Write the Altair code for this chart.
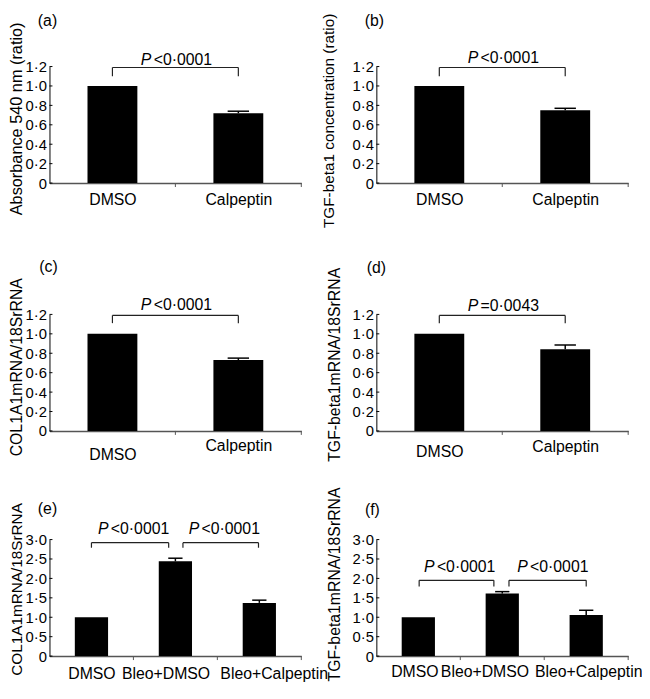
import json
import altair as alt
import pandas as pd

FONT = "Liberation Sans"

# ---------------- data ----------------
cats_2 = ["DMSO", "Calpeptin"]
cats_3 = ["DMSO", "Bleo+DMSO", "Bleo+Calpeptin"]

mean_a = [1.00, 0.72]
err_a = [0.00, 0.02]
mean_b = [1.00, 0.75]
err_b = [0.00, 0.02]
mean_c = [1.00, 0.73]
err_c = [0.00, 0.02]
mean_d = [1.00, 0.84]
err_d = [0.00, 0.045]
mean_e = [1.00, 2.44, 1.37]
err_e = [0.00, 0.08, 0.07]
mean_f = [1.00, 1.61, 1.06]
err_f = [0.00, 0.05, 0.12]

yticks_12 = [0, 0.2, 0.4, 0.6, 0.8, 1.0, 1.2]
yticks_30 = [0, 0.5, 1.0, 1.5, 2.0, 2.5, 3.0]

title_a = "Absorbance 540 nm (ratio)"
title_b = "TGF-beta1 concentration (ratio)"
title_c = "COL1A1mRNA/18SrRNA"
title_d = "TGF-beta1mRNA/18SrRNA"
title_e = "COL1A1mRNA/18SrRNA"
title_f = "TGF-beta1mRNA/18SrRNA"

# comparisons: left end, right end, bracket top, bracket foot, text x, text y, relation, P value
cols = ["l", "r", "top", "foot", "tx", "ty", "rel", "p"]
comp_a = [(0.5, 1.5, 1.19, 1.10, 1.0, 1.27, "<", "0·0001")]
comp_b = [(0.5, 1.5, 1.19, 1.10, 1.0, 1.29, "<", "0·0001")]
comp_c = [(0.5, 1.5, 1.19, 1.11, 1.0, 1.30, "<", "0·0001")]
comp_d = [(0.5, 1.5, 1.19, 1.11, 1.0, 1.29, "=", "0·0043")]
comp_e = [(0.5, 1.42, 2.92, 2.79, 0.99, 3.28, "<", "0·0001"),
          (1.59, 2.49, 2.92, 2.79, 2.07, 3.28, "<", "0·0001")]
comp_f = [(0.51, 1.40, 1.95, 1.79, 0.98, 2.29, "<", "0·0001"),
          (1.58, 2.50, 1.95, 1.79, 2.09, 2.29, "<", "0·0001")]

W = 255
H = 118


def cond(tests, default):
    if not tests:
        return default
    return {"condition": [{"test": f"datum.value == {v}", "value": val} for v, val in tests],
            "value": default}


def panel(cats, means, errs, yticks, ytitle, comps, tag, title_size, title_xy, tag_xy,
          lab_pad, lab_off, height=H, top=0):
    n = len(cats)
    xs = alt.Scale(domain=[0, n], nice=False, zero=False)
    ykw = dict(domain=[0, yticks[-1]], nice=False, zero=True)
    if top:
        ykw["range"] = [height, top]
    ys = alt.Scale(**ykw)
    half = 0.198
    cap = 0.085

    xaxis = alt.Axis(
        values=[i + 0.5 for i in range(n)],
        labelExpr=f"{json.dumps(cats)}[floor(datum.value)]",
        title=None, ticks=False, tickSize=0, grid=False,
        domainColor="#555555", domainWidth=1.5,
        labelFont=FONT, labelFontSize=16, labelColor="black",
        labelPadding=lab_pad, labelOffset=lab_off,
        labelOverlap=False, labelFlush=False, labelBound=False, labelAngle=0,
    )
    yaxis = alt.Axis(
        values=yticks,
        labelExpr="datum.value == 0 ? '0' : replace(format(datum.value, '.1f'), '.', '·')",
        title=ytitle, titleFont=FONT, titleFontSize=title_size, titleFontWeight="normal",
        titleColor="black", titleX=title_xy[0], titleY=title_xy[1],
        titleBaseline="middle", titleAlign="center", titleAngle=270,
        ticks=False, tickSize=0, grid=False,
        domainColor="black", domainWidth=1,
        labelFont=FONT, labelFontSize=15, labelColor="black", labelPadding=3,
        labelOverlap=False, labelFlush=False, labelBound=False,
    )

    def X(f):
        return alt.X(f, scale=xs, axis=xaxis)

    def Y(f):
        return alt.Y(f, scale=ys, axis=yaxis, stack=None)

    df = pd.DataFrame({"cat": cats, "mean": means, "err": errs, "i": list(range(n))})
    base = alt.Chart(df).transform_calculate(
        xl=f"datum.i + 0.5 - {half}",
        xr=f"datum.i + 0.5 + {half}",
        xc="datum.i + 0.5",
        cl=f"datum.i + 0.5 - {cap}",
        cr=f"datum.i + 0.5 + {cap}",
        hi="datum.mean + datum.err",
    )

    bars = base.mark_bar(color="black").encode(
        x=X("xl:Q"), x2="xr:Q", y=Y("mean:Q"), y2=alt.datum(0))
    eb = base.transform_filter("datum.err > 0")
    stem = eb.mark_rule(color="black", strokeWidth=1.5).encode(
        x=X("xc:Q"), y=Y("mean:Q"), y2="hi:Q")
    capm = eb.mark_rule(color="black", strokeWidth=1.5).encode(
        x=X("cl:Q"), x2="cr:Q", y=Y("hi:Q"))

    xt = alt.Chart(pd.DataFrame({"b": list(range(1, n + 1))})).mark_rule(
        color="#555555", strokeWidth=1).encode(
        x=X("b:Q"), y=alt.value(height), y2=alt.value(height + 4))
    yt = alt.Chart(pd.DataFrame({"v": yticks})).mark_rule(
        color="black", strokeWidth=1).encode(
        y=Y("v:Q"), x=alt.value(0), x2=alt.value(3))

    cdf = pd.DataFrame(comps, columns=cols)
    cb = alt.Chart(cdf)
    hline = cb.mark_rule(color="#222222", strokeWidth=1.2).encode(
        x=X("l:Q"), x2="r:Q", y=Y("top:Q"))
    lfoot = cb.mark_rule(color="#222222", strokeWidth=1.2).encode(
        x=X("l:Q"), y=Y("top:Q"), y2="foot:Q")
    rfoot = cb.mark_rule(color="#222222", strokeWidth=1.2).encode(
        x=X("r:Q"), y=Y("top:Q"), y2="foot:Q")
    ptxt = cb.mark_text(font=FONT, fontSize=16, fontStyle="italic", align="left",
                        baseline="middle", dx=-35, color="black").encode(
        x=X("tx:Q"), y=Y("ty:Q"), text=alt.value("P"))
    rtxt = cb.transform_calculate(s="datum.rel + datum.p").mark_text(
        font=FONT, fontSize=16, align="left", baseline="middle", dx=-22,
        color="black").encode(
        x=X("tx:Q"), y=Y("ty:Q"), text="s:N")

    lab = alt.Chart(pd.DataFrame({"t": [tag]})).mark_text(
        font=FONT, fontSize=16, align="center", baseline="middle", color="black").encode(
        x=alt.value(tag_xy[0]), y=alt.value(tag_xy[1]), text="t:N")

    return alt.layer(bars, stem, capm, xt, yt, hline, lfoot, rfoot, ptxt, rtxt, lab).properties(
        width=W, height=height)


pa = panel(cats_2, mean_a, err_a, yticks_12, title_a, comp_a, "(a)", 16.5, (-33, 52.5), (-2, -46),
           9, 0)
pb = panel(cats_2, mean_b, err_b, yticks_12, title_b, comp_b, "(b)", 15.5, (-48, 54.5), (-2, -46),
           9, 0)
pc = panel(cats_2, mean_c, err_c, yticks_12, title_c, comp_c, "(c)", 16, (-33, 76.5), (-1, -24.5),
           cond([(0.5, 16)], 7), 0, height=H + 23.5, top=23.5)
pd_ = panel(cats_2, mean_d, err_d, yticks_12, title_d, comp_d, "(d)", 16, (-42, 74), (0, -23.5),
            cond([(0.5, 13)], 8), 0, height=H + 23.5, top=23.5)
pe = panel(cats_3, mean_e, err_e, yticks_30, title_e, comp_e, "(e)", 15.5, (-33, 50), (-2, -30.5),
           10, cond([(1.5, -10), (2.5, 14.5)], 0))
pf = panel(cats_3, mean_f, err_f, yticks_30, title_f, comp_f, "(f)", 16, (-42, 45), (-4, -29.5),
           8, cond([(0.5, -4), (1.5, -18), (2.5, 2)], 0))

chart = alt.concat(
    pa, pb, pc, pd_, pe, pf,
    columns=2,
    spacing={"row": 109.5, "column": 76},
    bounds="flush",
    align="each",
).properties(
    padding={"left": 0, "top": 0, "right": 0, "bottom": 0}
).configure(font=FONT).configure_view(stroke=None)

chart.save("out.html", embed_options={"renderer": "svg", "actions": False})
